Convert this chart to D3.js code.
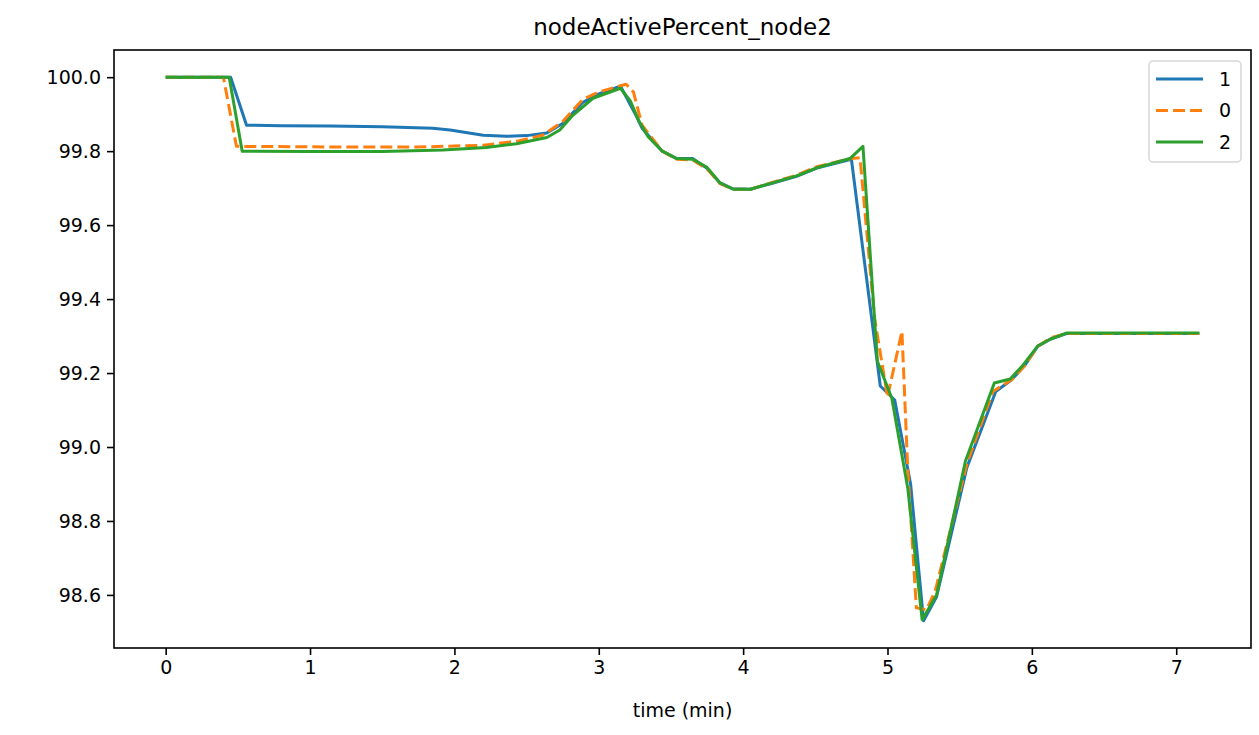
<!DOCTYPE html>
<html>
<head>
<meta charset="utf-8">
<script src="https://cdn.jsdelivr.net/npm/d3@7"></script>
<style>
  body { margin: 0; background: #fff; }
  text { font-family: "DejaVu Sans", sans-serif; fill: #000; }
  .line { fill: none; stroke-width: 3px; stroke-linejoin: round; }
</style>
</head>
<body>
<script>
// chart values
var seriesNames = ["1", "0", "2"];
var seriesColors = ["#1f77b4", "#ff7f0e", "#2ca02c"];
var xTicks = [0, 1, 2, 3, 4, 5, 6, 7];
var yTicks = [98.6, 98.8, 99.0, 99.2, 99.4, 99.6, 99.8, 100.0];

var time1 = [0, 0.45, 0.56, 0.8, 1.14, 1.5, 1.85, 1.97, 2.2, 2.36, 2.5, 2.64, 2.75, 2.89, 3.0, 3.15,
  3.26, 3.3, 3.44, 3.54, 3.65, 3.75, 3.84, 3.93, 4.05, 4.19, 4.37, 4.51, 4.75, 4.95, 5.05, 5.16,
  5.25, 5.34, 5.55, 5.75, 5.86, 5.95, 6.04, 6.13, 6.24, 7.16];
var value1 = [100.0, 100.0, 99.870, 99.869, 99.868, 99.866, 99.862, 99.857, 99.843, 99.840, 99.842, 99.849, 99.875, 99.932, 99.955, 99.976,
  99.895, 99.862, 99.800, 99.780, 99.780, 99.754, 99.714, 99.698, 99.697, 99.712, 99.732, 99.754, 99.778, 99.165, 99.127, 98.900,
  98.530, 98.595, 98.945, 99.150, 99.182, 99.220, 99.272, 99.292, 99.307, 99.307];

var time0 = [0, 0.40, 0.49, 0.9, 1.3, 1.74, 2.2, 2.45, 2.61, 2.75, 2.89, 3.0, 3.19, 3.24, 3.3, 3.44,
  3.54, 3.65, 3.75, 3.84, 3.93, 4.05, 4.19, 4.37, 4.51, 4.75, 4.81, 4.91, 5.0, 5.1, 5.14, 5.2,
  5.27, 5.33, 5.55, 5.73, 5.86, 5.95, 6.04, 6.13, 6.24, 7.16];
var value0 = [100.0, 100.0, 99.813, 99.812, 99.811, 99.811, 99.816, 99.828, 99.843, 99.880, 99.940, 99.960, 99.981, 99.960, 99.870, 99.800,
  99.778, 99.776, 99.752, 99.712, 99.697, 99.697, 99.714, 99.735, 99.758, 99.780, 99.782, 99.350, 99.135, 99.313, 98.943, 98.565,
  98.560, 98.610, 98.955, 99.150, 99.182, 99.220, 99.272, 99.295, 99.307, 99.307];

var time2 = [0, 0.44, 0.53, 1.0, 1.5, 1.92, 2.22, 2.43, 2.64, 2.73, 2.82, 2.96, 3.15, 3.22, 3.28, 3.34,
  3.44, 3.54, 3.65, 3.75, 3.84, 3.93, 4.05, 4.19, 4.37, 4.51, 4.74, 4.83, 4.93, 5.03, 5.14, 5.24,
  5.34, 5.54, 5.74, 5.85, 5.94, 6.04, 6.13, 6.24, 7.16];
var value2 = [100.0, 100.0, 99.800, 99.799, 99.799, 99.803, 99.810, 99.820, 99.837, 99.857, 99.897, 99.943, 99.970, 99.935, 99.880, 99.840,
  99.800, 99.780, 99.778, 99.756, 99.714, 99.697, 99.697, 99.713, 99.733, 99.755, 99.780, 99.813, 99.232, 99.132, 98.890, 98.533,
  98.600, 98.962, 99.173, 99.184, 99.222, 99.273, 99.292, 99.308, 99.308];

var seriesTimes = [time1, time0, time2];
var seriesValues = [value1, value0, value2];

var svgWidth = 1259;
var svgHeight = 735;

var margin = {
  top: 50,
  right: 8,
  bottom: 87,
  left: 114
};

var height = svgHeight - margin.top - margin.bottom;
var width = svgWidth - margin.left - margin.right;

var svg = d3.select("body")
  .append("svg")
  .attr("height", svgHeight)
  .attr("width", svgWidth);

var chartGroup = svg.append("g")
  .attr("transform", `translate(${margin.left}, ${margin.top})`);

// matplotlib style 5% margins around the data
var allT = d3.merge(seriesTimes);
var allV = d3.merge(seriesValues);
var tExt = d3.extent(allT);
var vExt = d3.extent(allV);
var tPad = (tExt[1] - tExt[0]) * 0.05;
var vPad = (vExt[1] - vExt[0]) * 0.05;

var xScale = d3.scaleLinear()
  .domain([tExt[0] - tPad, tExt[1] + tPad])
  .range([0, width]);

var yScale = d3.scaleLinear()
  .domain([vExt[0] - vPad, vExt[1] + vPad])
  .range([height, 0]);

var bottomAxis = d3.axisBottom(xScale).tickValues(xTicks).tickFormat(d3.format("d"))
  .tickSize(7).tickPadding(6);
var leftAxis = d3.axisLeft(yScale).tickValues(yTicks).tickFormat(d3.format(".1f"))
  .tickSize(7).tickPadding(6);

var xAxisG = chartGroup.append("g")
  .attr("transform", `translate(0, ${height})`)
  .call(bottomAxis);
var yAxisG = chartGroup.append("g").call(leftAxis);

[xAxisG, yAxisG].forEach(function(g) {
  g.select(".domain").remove();
  g.selectAll(".tick line").attr("stroke", "#000").attr("stroke-width", 1.6);
  g.selectAll(".tick text").style("font-size", "19px").style("font-family", "DejaVu Sans");
});

// lines
var line = d3.line()
  .x(d => xScale(d[0]))
  .y(d => yScale(d[1]));

seriesNames.forEach(function(name, i) {
  var pts = d3.zip(seriesTimes[i], seriesValues[i]);
  chartGroup.append("path")
    .datum(pts)
    .attr("class", "line")
    .attr("d", line)
    .attr("stroke", seriesColors[i])
    .attr("stroke-dasharray", name === "0" ? "12,5" : null);
});

// frame
chartGroup.append("rect")
  .attr("width", width)
  .attr("height", height)
  .attr("fill", "none")
  .attr("stroke", "#000")
  .attr("stroke-width", 1.6);

// title and axis label
svg.append("text")
  .attr("x", margin.left + width / 2)
  .attr("y", 35)
  .attr("text-anchor", "middle")
  .style("font-size", "23px")
  .text("nodeActivePercent_node2");

svg.append("text")
  .attr("x", margin.left + width / 2)
  .attr("y", 717)
  .attr("text-anchor", "middle")
  .style("font-size", "19px")
  .text("time (min)");

// legend
var legend = chartGroup.append("g")
  .attr("transform", `translate(${width - 102}, 11)`);

legend.append("rect")
  .attr("width", 92)
  .attr("height", 101)
  .attr("rx", 4)
  .attr("fill", "#fff")
  .attr("fill-opacity", 0.8)
  .attr("stroke", "#d6d6d6")
  .attr("stroke-width", 1.5);

seriesNames.forEach(function(name, i) {
  var row = legend.append("g").attr("transform", `translate(0, ${18 + i * 31.5})`);
  row.append("line")
    .attr("x1", 7).attr("x2", 54)
    .attr("stroke", seriesColors[i])
    .attr("stroke-width", 3)
    .attr("stroke-dasharray", name === "0" ? "12,5" : null);
  row.append("text")
    .attr("x", 70)
    .attr("dy", "0.35em")
    .style("font-size", "19px")
    .text(name);
});
</script>
</body>
</html>
